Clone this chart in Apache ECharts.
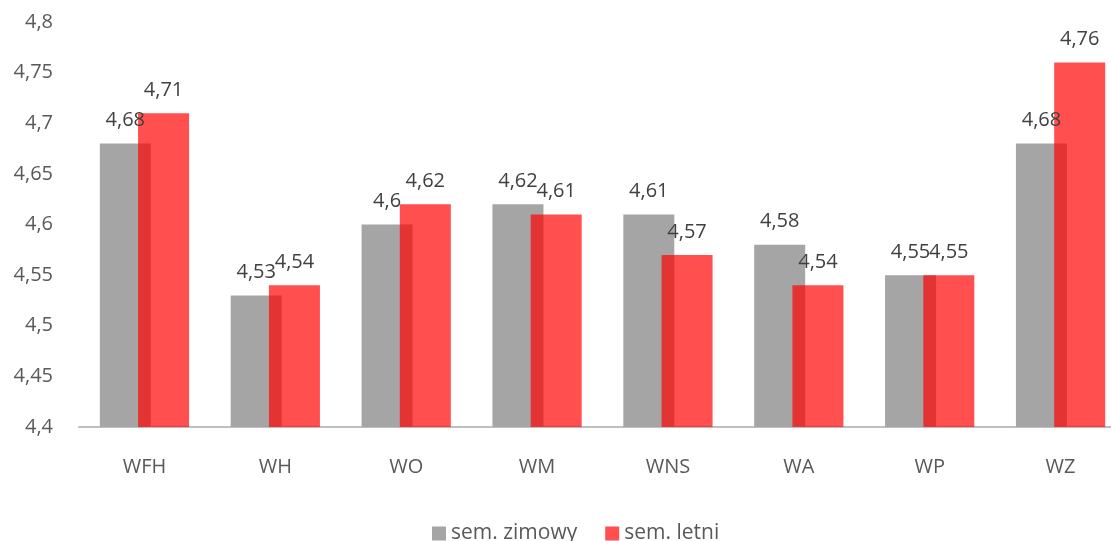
<!DOCTYPE html>
<html><head><meta charset="utf-8">
<script src="https://cdn.jsdelivr.net/npm/echarts@6/dist/echarts.min.js"></script>
<style>html,body{margin:0;padding:0;background:#fff}#c{width:1111px;height:541px}</style>
</head><body><div id="c"></div>
<script>
var categories = ['WFH','WH','WO','WM','WNS','WA','WP','WZ'];
var zimowy = [4.68,4.53,4.6,4.62,4.61,4.58,4.55,4.68];
var letni = [4.71,4.54,4.62,4.61,4.57,4.54,4.55,4.76];
var seriesNames = ['sem. zimowy','sem. letni'];
var FONT = '"Open Sans", sans-serif';
function fmt(v){ return String(+v.toFixed(2)).replace('.', ','); }
var chart = echarts.init(document.getElementById('c'), null, {renderer:'canvas'});
chart.setOption({
  animation:false,
  textStyle:{fontFamily:FONT},
  grid:{left:79, top:22, width:1047, height:405, containLabel:false, outerBoundsMode:'none'},
  legend:{bottom:-8, left:427, itemWidth:14, itemHeight:14, itemGap:28,
    icon:'rect', textStyle:{fontFamily:FONT, fontSize:21, color:'#595959'},
    data:seriesNames},
  xAxis:{type:'category', data:categories,
    axisLine:{lineStyle:{color:'#BFBFBF', width:2}}, axisTick:{show:false},
    axisLabel:{color:'#595959', fontSize:20, fontFamily:FONT, margin:30}},
  yAxis:{type:'value', min:4.4, max:4.8, interval:0.05,
    splitLine:{show:false}, axisLine:{show:false}, axisTick:{show:false},
    axisLabel:{color:'#595959', fontSize:20, fontFamily:FONT, margin:26,
      formatter:function(v){return fmt(v);}}},
  series:[
    {name:seriesNames[0], type:'bar', data:zimowy, barWidth:51, barGap:'-25%',
     itemStyle:{color:'#A5A5A5'},
     label:{show:true, position:'top', distance:13, color:'#404040', fontSize:20, fontFamily:FONT,
       formatter:function(p){return fmt(p.value);}}},
    {name:seriesNames[1], type:'bar', data:letni, barWidth:51,
     itemStyle:{color:'rgba(255,0,0,0.69)'},
     label:{show:true, position:'top', distance:13, color:'#404040', fontSize:20, fontFamily:FONT,
       formatter:function(p){return fmt(p.value);}}}
  ]
});
</script></body></html>
